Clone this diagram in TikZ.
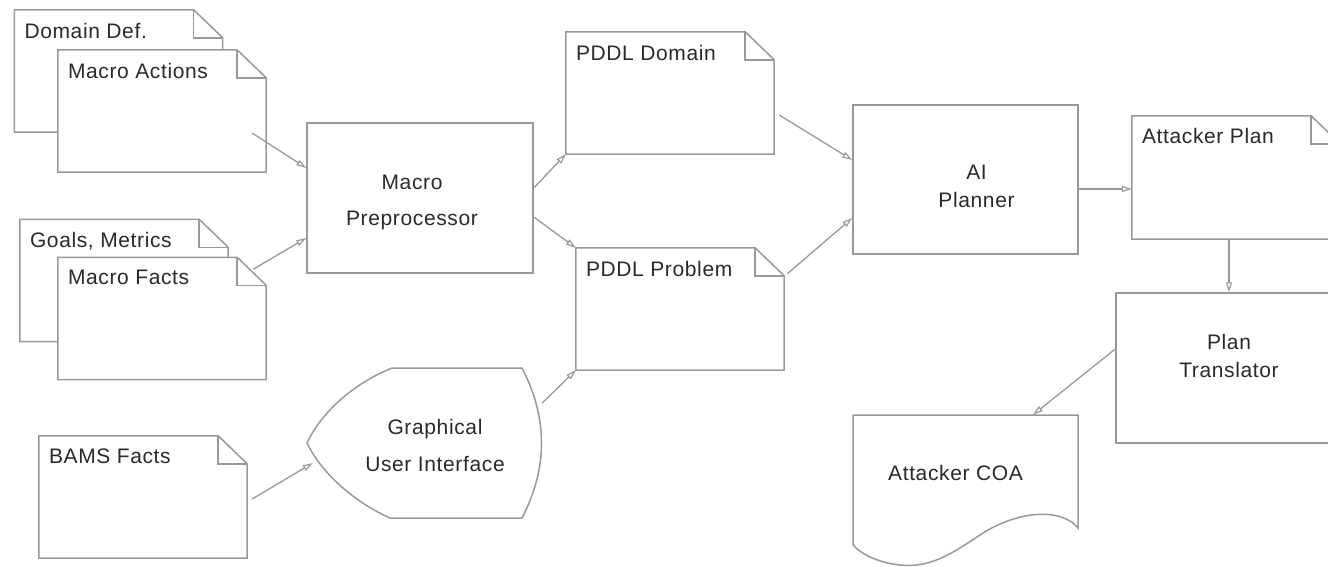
\documentclass[tikz,border=0pt]{standalone}
\usepackage{fontspec}
\setmainfont[LetterSpace=3]{Liberation Sans}
\usetikzlibrary{arrows.meta,calc}
\definecolor{edgegray}{HTML}{999999}
\definecolor{ink}{HTML}{2A2A2A}

\tikzset{
  plainnode/.style={inner sep=0pt, draw=none},
  docnode/.style={plainnode, fill=white, minimum width=208pt, minimum height=122pt},
  doctitle/.style={anchor=north west, inner sep=0pt, xshift=10pt, yshift=-13pt,
    text=ink, font=\fontsize{21}{25}\selectfont},
  boxnode/.style={plainnode, draw=edgegray, line width=1.5pt, fill=white,
    minimum width=226pt, minimum height=150pt},
  boxtext/.style={text=ink, align=center, inner sep=0pt, font=\fontsize{21}{28}\selectfont},
  edgeline/.style={draw=edgegray, line width=1.5pt, line join=miter},
  flowarrow/.style={draw=edgegray, line width=1.3pt,
    -{Triangle[open, length=10pt, width=6pt, line width=1.2pt]}},
}

% outline of a document symbol with a folded top-right corner
\newcommand\docframe[1]{%
  \draw[edgeline] (#1.north west) -- ([xshift=-29pt]#1.north east)
    -- ([yshift=-28pt]#1.north east) -- (#1.south east) -- (#1.south west) -- cycle;
  \draw[edgeline] ([xshift=-29pt]#1.north east) |- ([yshift=-28pt]#1.north east);
}

\begin{document}
\begin{tikzpicture}[x=1pt, y=-1pt]
\useasboundingbox (0,0) rectangle (1328,566);
\clip (0,0) rectangle (1328,566);

% input documents
\node[docnode, label={[doctitle]north west:{Domain Def.}}] (dd) at (118.5,71) {};
\docframe{dd}
\node[docnode, label={[doctitle]north west:{Macro Actions}}] (ma) at (162,111) {};
\docframe{ma}

\node[docnode, label={[doctitle]north west:{Goals, Metrics}}] (gm) at (124,280.5) {};
\docframe{gm}
\node[docnode, label={[doctitle]north west:{Macro Facts}}] (mf) at (162,318.5) {};
\docframe{mf}

\node[docnode, label={[doctitle]north west:{BAMS Facts}}] (bams) at (143,497) {};
\docframe{bams}

% processing boxes
\node[boxnode, label={[boxtext, xshift=-8pt, yshift=-4pt]center:{Macro\\[8pt]Preprocessor}}]
  (mp) at (420,198) {};
\node[boxnode, minimum width=225pt, minimum height=149pt,
  label={[boxtext, xshift=11pt, yshift=-7pt]center:{AI\\Planner}}] (ai) at (965.5,179.5) {};
\node[boxnode, label={[boxtext, yshift=12pt]center:{Plan\\Translator}}] (pt) at (1229,368) {};

% generated documents
\node[docnode, label={[doctitle]north west:{PDDL Domain}}] (pd) at (670,93) {};
\docframe{pd}
\node[docnode, label={[doctitle]north west:{PDDL Problem}}] (pp) at (680,309) {};
\docframe{pp}
\node[docnode, minimum height=123pt, label={[doctitle, yshift=1pt]north west:{Attacker Plan}}]
  (ap) at (1236,177.5) {};
\docframe{ap}

% graphical user interface (display symbol)
\draw[edgeline, fill=white] (392,368) -- (522,368)
  .. controls (548,418) and (548,468) .. (522,518) -- (390,518)
  .. controls (350,500) and (320,470) .. (307,443)
  .. controls (320,415) and (350,385) .. (392,368) -- cycle;
\node[plainnode, minimum width=236pt, minimum height=150pt,
  label={[boxtext, xshift=10pt, yshift=-2pt]center:{Graphical\\[9pt]User Interface}}]
  (gui) at (425,443) {};

% output report (wavy-bottom document)
\draw[edgeline, fill=white] (853,415) -- (1078,415) -- (1078,528)
  .. controls (1062,508) and (1020,510) .. (983,533)
  .. controls (950,555) and (930,568) .. (900,565)
  .. controls (880,563) and (862,555) .. (853,545) -- cycle;
\node[plainnode, minimum width=225pt, minimum height=130pt,
  label={[boxtext, xshift=-10pt, yshift=7pt]center:{Attacker COA}}] (coa) at (965.5,480) {};

% data flow
\draw[flowarrow] ($(ma.east)+(-14,22)$) -- ($(mp.west)+(0,-30)$);
\draw[flowarrow] ($(mf.north east)+(-13,12)$) -- ($(mp.west)+(0,40)$);
\draw[flowarrow] ($(mp.east)+(0,-10)$) -- (pd.south west);
\draw[flowarrow] ($(mp.east)+(0,19)$) -- (pp.north west);
\draw[flowarrow] ($(pd.east)+(5,22)$) -- ($(ai.west)+(0,-19.5)$);
\draw[flowarrow] ($(pp.north east)+(3,26)$) -- ($(ai.west)+(0,38.5)$);
\draw[flowarrow] ($(ai.east)+(0,9.5)$) -- ($(ap.west)+(0,11.5)$);
\draw[flowarrow] (ap.south -| pt.north) -- (pt.north);
\draw[flowarrow] ($(pt.west)+(0,-19)$) -- ($(coa.north)+(67.5,0)$);
\draw[flowarrow] ($(bams.east)+(5,2)$) -- ($(gui.west)+(6,20)$);
\draw[flowarrow] ($(gui.east)+(-1,-40)$) -- (pp.south west);
\end{tikzpicture}
\end{document}
